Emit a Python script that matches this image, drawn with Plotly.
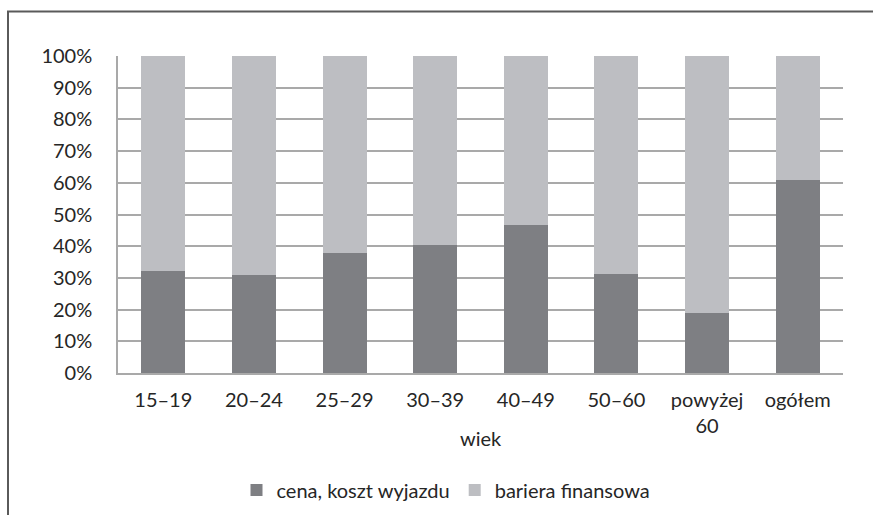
import plotly.graph_objects as go

categories = ["15–19", "20–24", "25–29", "30–39", "40–49", "50–60", "powyżej<br>60", "ogółem"]
cena = [32.3, 31.0, 37.9, 40.5, 46.8, 31.2, 19.0, 61.0]
bariera = [100 - v for v in cena]
series_names = ["cena, koszt wyjazdu", "bariera finansowa"]
y_ticks = [0, 10, 20, 30, 40, 50, 60, 70, 80, 90, 100]
y_ticklabels = [f"{t}%" for t in y_ticks]

W, H = 873, 515
L, R, T, B = 118, 30, 56, 142
pw, ph = W - L - R, H - T - B

def px(x):
    return (x - L) / pw

def py(y):
    return (H - B - y) / ph

FONT = "Lato, 'Open Sans', sans-serif"
TXT = "#262626"
FS = 20

fig = go.Figure()
fig.add_trace(go.Bar(x=categories, y=cena, name=series_names[0],
                     marker=dict(color="#7e7f83", line=dict(width=0)), width=0.486))
fig.add_trace(go.Bar(x=categories, y=bariera, name=series_names[1],
                     marker=dict(color="#bdbec2", line=dict(width=0)), width=0.486))

fig.update_layout(
    barmode="stack",
    width=W, height=H,
    margin=dict(l=L, r=R, t=T, b=B, autoexpand=False),
    paper_bgcolor="white", plot_bgcolor="white",
    font=dict(family=FONT, size=FS, color=TXT),
    showlegend=True,
    legend=dict(orientation="h", x=px(446), xanchor="center", y=py(490), yanchor="middle",
                font=dict(size=FS, color=TXT), traceorder="normal", itemwidth=30,
                tracegroupgap=0),
    xaxis=dict(showgrid=False, showline=True, linecolor="#a9a9a9", linewidth=1.5,
               ticks="", tickfont=dict(size=FS, color=TXT), ticklabelstandoff=8,
               range=[-0.5, 7.5], automargin=False),
    yaxis=dict(range=[0, 100], tickvals=y_ticks, ticktext=y_ticklabels,
               showgrid=True, gridcolor="#a9a9a9", gridwidth=1.5,
               showline=True, linecolor="#a9a9a9", linewidth=1.5,
               zeroline=False, ticks="", tickfont=dict(size=FS, color=TXT),
               ticklabelstandoff=20, automargin=False),
    annotations=[dict(text="wiek", x=0.5, xref="paper", y=py(438), yref="paper",
                      showarrow=False, xanchor="center", yanchor="middle",
                      font=dict(size=FS, color=TXT))],
    shapes=[
        dict(type="line", xref="paper", yref="paper", x0=px(8), x1=px(8), y0=py(11.5), y1=py(520),
             line=dict(color="#5a5a5a", width=2)),
        dict(type="line", xref="paper", yref="paper", x0=px(7), x1=px(880), y0=py(11.5), y1=py(11.5),
             line=dict(color="#5a5a5a", width=2)),
    ],
)

fig.write_html("out.html", config={"displayModeBar": False},
               post_script="document.body.style.margin='0';document.body.style.overflow='hidden';")
